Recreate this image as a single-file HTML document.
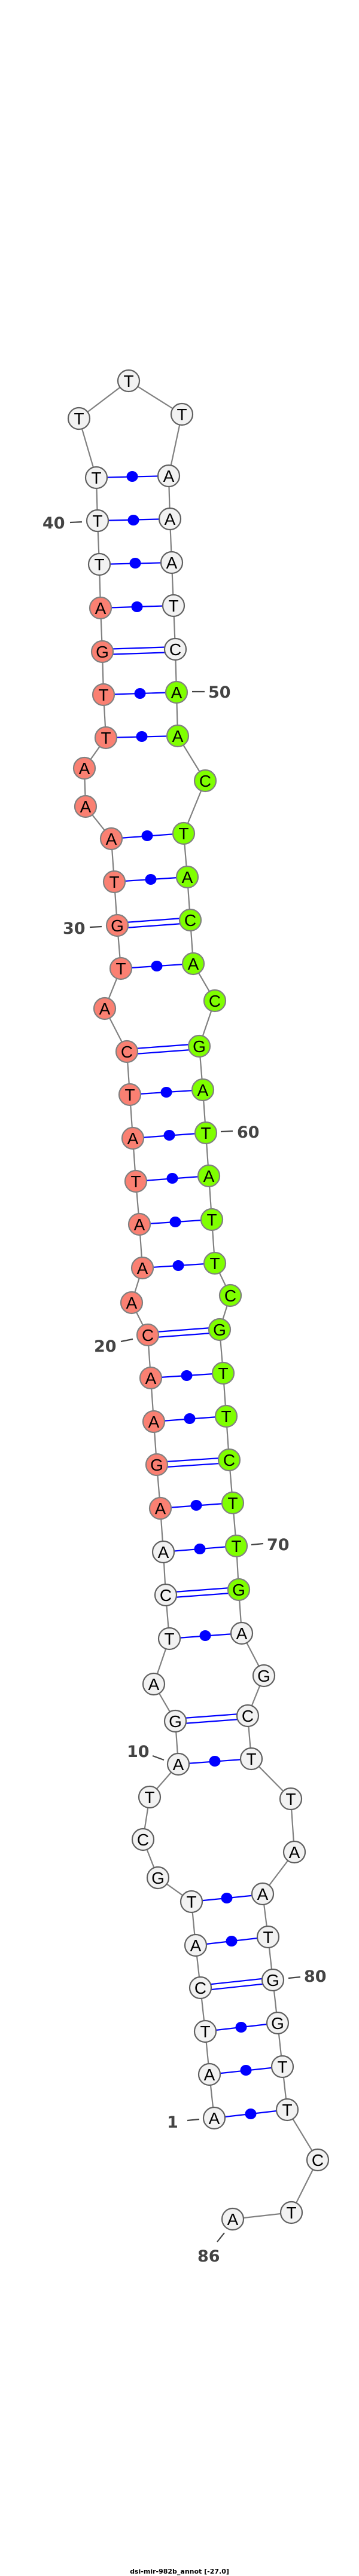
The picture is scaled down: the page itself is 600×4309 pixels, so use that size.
<!DOCTYPE html>
<html><head><meta charset="utf-8"><style>
html,body{margin:0;padding:0;background:#fff;}
svg{display:block;}
.n text{font-family:"Liberation Sans",sans-serif;font-size:28px;text-anchor:middle;fill:#000;stroke:none;}
.lb{font-family:"DejaVu Sans","Liberation Sans",sans-serif;font-weight:bold;font-size:27px;fill:#444;}
</style></head><body>
<svg width="600" height="4309" viewBox="0 0 600 4309" xmlns="http://www.w3.org/2000/svg">
<polyline fill="none" stroke="#808080" stroke-width="2.2" points="358,3543 350,3470 343,3398 335,3325 327,3254 320,3181 264,3141 239,3077 250,3006 298,2951 293,2879 257,2817 283,2741 277,2668 273,2596 268,2523 262,2450 257,2378 252,2305 247,2233 220,2179 238,2121 233,2048 227,1976 222,1904 217,1831 212,1759 175,1687 202,1620 196,1548 191,1475 186,1403 143,1349 141,1285 177,1234 173,1162 171,1090 168,1017 166,944 163,871 161,799 132,700 215,637 304,693 282,796 284,868 287,941 290,1013 293,1086 295,1158 297,1231 343,1306 307,1394 313,1467 318,1539 323,1612 359,1674 333,1750 339,1823 344,1895 349,1967 354,2040 359,2113 385,2167 367,2224 373,2297 378,2369 383,2442 389,2514 395,2586 399,2659 404,2732 441,2803 414,2870 420,2942 486,3009 492,3098 439,3168 448,3240 456,3312 464,3384 472,3457 480,3529 531,3613 487,3701 389,3712"/>
<g stroke="#0000ff" stroke-width="2.2">
<line x1="358" y1="3543" x2="480" y2="3529"/>
<line x1="350" y1="3470" x2="472" y2="3457"/>
<line x1="343" y1="3398" x2="464" y2="3384"/>
<line x1="335" y1="3321" x2="456" y2="3308"/><line x1="335" y1="3330" x2="456" y2="3317"/>
<line x1="327" y1="3254" x2="448" y2="3240"/>
<line x1="320" y1="3181" x2="439" y2="3169"/>
<line x1="298" y1="2951" x2="420" y2="2942"/>
<line x1="293" y1="2875" x2="414" y2="2866"/><line x1="293" y1="2884" x2="414" y2="2875"/>
<line x1="283" y1="2741" x2="404" y2="2732"/>
<line x1="277" y1="2664" x2="399" y2="2655"/><line x1="277" y1="2673" x2="399" y2="2664"/>
<line x1="273" y1="2596" x2="395" y2="2586"/>
<line x1="268" y1="2523" x2="389" y2="2514"/>
<line x1="262" y1="2446" x2="383" y2="2438"/><line x1="262" y1="2455" x2="383" y2="2447"/>
<line x1="257" y1="2378" x2="378" y2="2369"/>
<line x1="252" y1="2305" x2="373" y2="2297"/>
<line x1="247" y1="2229" x2="367" y2="2220"/><line x1="247" y1="2238" x2="367" y2="2229"/>
<line x1="238" y1="2121" x2="359" y2="2113"/>
<line x1="233" y1="2048" x2="354" y2="2040"/>
<line x1="227" y1="1976" x2="349" y2="1967"/>
<line x1="222" y1="1904" x2="344" y2="1895"/>
<line x1="217" y1="1831" x2="339" y2="1823"/>
<line x1="212" y1="1755" x2="333" y2="1746"/><line x1="212" y1="1764" x2="333" y2="1755"/>
<line x1="202" y1="1620" x2="323" y2="1612"/>
<line x1="196" y1="1544" x2="318" y2="1535"/><line x1="196" y1="1553" x2="318" y2="1544"/>
<line x1="191" y1="1475" x2="313" y2="1467"/>
<line x1="186" y1="1403" x2="307" y2="1394"/>
<line x1="177" y1="1234" x2="297" y2="1231"/>
<line x1="173" y1="1162" x2="295" y2="1158"/>
<line x1="171" y1="1086" x2="293" y2="1082"/><line x1="171" y1="1095" x2="293" y2="1091"/>
<line x1="168" y1="1017" x2="290" y2="1013"/>
<line x1="166" y1="944" x2="287" y2="941"/>
<line x1="163" y1="871" x2="284" y2="868"/>
<line x1="161" y1="799" x2="282" y2="796"/>
</g>
<g fill="#0000ff">
<ellipse cx="419" cy="3536" rx="9.5" ry="9"/>
<ellipse cx="411" cy="3463" rx="9.5" ry="9"/>
<ellipse cx="403" cy="3391" rx="9.5" ry="9"/>
<ellipse cx="387" cy="3247" rx="9.5" ry="9"/>
<ellipse cx="379" cy="3175" rx="9.5" ry="9"/>
<ellipse cx="359" cy="2946" rx="9.5" ry="9"/>
<ellipse cx="343" cy="2736" rx="9.5" ry="9"/>
<ellipse cx="334" cy="2591" rx="9.5" ry="9"/>
<ellipse cx="328" cy="2518" rx="9.5" ry="9"/>
<ellipse cx="317" cy="2373" rx="9.5" ry="9"/>
<ellipse cx="312" cy="2301" rx="9.5" ry="9"/>
<ellipse cx="298" cy="2117" rx="9.5" ry="9"/>
<ellipse cx="293" cy="2044" rx="9.5" ry="9"/>
<ellipse cx="288" cy="1971" rx="9.5" ry="9"/>
<ellipse cx="283" cy="1899" rx="9.5" ry="9"/>
<ellipse cx="278" cy="1827" rx="9.5" ry="9"/>
<ellipse cx="262" cy="1616" rx="9.5" ry="9"/>
<ellipse cx="252" cy="1471" rx="9.5" ry="9"/>
<ellipse cx="246" cy="1398" rx="9.5" ry="9"/>
<ellipse cx="237" cy="1232" rx="9.5" ry="9"/>
<ellipse cx="234" cy="1160" rx="9.5" ry="9"/>
<ellipse cx="229" cy="1015" rx="9.5" ry="9"/>
<ellipse cx="226" cy="942" rx="9.5" ry="9"/>
<ellipse cx="223" cy="870" rx="9.5" ry="9"/>
<ellipse cx="221" cy="797" rx="9.5" ry="9"/>
</g>
<g stroke="#444" stroke-width="2.2">
<line x1="117" y1="874" x2="137" y2="873"/>
<line x1="321" y1="1157" x2="342" y2="1157"/>
<line x1="150" y1="1551" x2="170" y2="1550"/>
<line x1="369" y1="1893" x2="389" y2="1892"/>
<line x1="202" y1="2244" x2="222" y2="2240"/>
<line x1="420" y1="2584" x2="440" y2="2582"/>
<line x1="255" y1="2937" x2="274" y2="2944"/>
<line x1="482" y1="3309" x2="502" y2="3307"/>
<line x1="313" y1="3547" x2="333" y2="3545"/>
<line x1="375" y1="3735" x2="363" y2="3750"/>
</g>
<g class="lb">
<text x="71" y="884">40</text>
<text x="348" y="1167">50</text>
<text x="105" y="1562">30</text>
<text x="396" y="1903">60</text>
<text x="157" y="2261">20</text>
<text x="446" y="2593">70</text>
<text x="212" y="2939">10</text>
<text x="508" y="3315">80</text>
<text x="279" y="3559">1</text>
<text x="330" y="3783">86</text>
</g>
<g class="n" stroke-width="2.2">
<g stroke="#606060" fill="#f2f2f2">
<circle cx="358" cy="3543" r="18"/><circle cx="350" cy="3470" r="18"/><circle cx="343" cy="3398" r="18"/><circle cx="335" cy="3325" r="18"/><circle cx="327" cy="3254" r="18"/><circle cx="320" cy="3181" r="18"/><circle cx="264" cy="3141" r="18"/><circle cx="239" cy="3077" r="18"/><circle cx="250" cy="3006" r="18"/><circle cx="298" cy="2951" r="18"/><circle cx="293" cy="2879" r="18"/><circle cx="257" cy="2817" r="18"/><circle cx="283" cy="2741" r="18"/><circle cx="277" cy="2668" r="18"/><circle cx="273" cy="2596" r="18"/>
<circle cx="166" cy="944" r="18"/><circle cx="163" cy="871" r="18"/><circle cx="161" cy="799" r="18"/><circle cx="132" cy="700" r="18"/><circle cx="215" cy="637" r="18"/><circle cx="304" cy="693" r="18"/><circle cx="282" cy="796" r="18"/><circle cx="284" cy="868" r="18"/><circle cx="287" cy="941" r="18"/><circle cx="290" cy="1013" r="18"/><circle cx="293" cy="1086" r="18"/>
<circle cx="404" cy="2732" r="18"/><circle cx="441" cy="2803" r="18"/><circle cx="414" cy="2870" r="18"/><circle cx="420" cy="2942" r="18"/><circle cx="486" cy="3009" r="18"/><circle cx="492" cy="3098" r="18"/><circle cx="439" cy="3168" r="18"/><circle cx="448" cy="3240" r="18"/><circle cx="456" cy="3312" r="18"/><circle cx="464" cy="3384" r="18"/><circle cx="472" cy="3457" r="18"/><circle cx="480" cy="3529" r="18"/><circle cx="531" cy="3613" r="18"/><circle cx="487" cy="3701" r="18"/><circle cx="389" cy="3712" r="18"/>
</g>
<g stroke="#808080" fill="#fa8072">
<circle cx="268" cy="2523" r="18"/><circle cx="262" cy="2450" r="18"/><circle cx="257" cy="2378" r="18"/><circle cx="252" cy="2305" r="18"/><circle cx="247" cy="2233" r="18"/><circle cx="220" cy="2179" r="18"/><circle cx="238" cy="2121" r="18"/><circle cx="233" cy="2048" r="18"/><circle cx="227" cy="1976" r="18"/><circle cx="222" cy="1904" r="18"/><circle cx="217" cy="1831" r="18"/><circle cx="212" cy="1759" r="18"/><circle cx="175" cy="1687" r="18"/><circle cx="202" cy="1620" r="18"/><circle cx="196" cy="1548" r="18"/><circle cx="191" cy="1475" r="18"/><circle cx="186" cy="1403" r="18"/><circle cx="143" cy="1349" r="18"/><circle cx="141" cy="1285" r="18"/><circle cx="177" cy="1234" r="18"/><circle cx="173" cy="1162" r="18"/><circle cx="171" cy="1090" r="18"/><circle cx="168" cy="1017" r="18"/>
</g>
<g stroke="#808080" fill="#7fff00">
<circle cx="295" cy="1158" r="18"/><circle cx="297" cy="1231" r="18"/><circle cx="343" cy="1306" r="18"/><circle cx="307" cy="1394" r="18"/><circle cx="313" cy="1467" r="18"/><circle cx="318" cy="1539" r="18"/><circle cx="323" cy="1612" r="18"/><circle cx="359" cy="1674" r="18"/><circle cx="333" cy="1750" r="18"/><circle cx="339" cy="1823" r="18"/><circle cx="344" cy="1895" r="18"/><circle cx="349" cy="1967" r="18"/><circle cx="354" cy="2040" r="18"/><circle cx="359" cy="2113" r="18"/><circle cx="385" cy="2167" r="18"/><circle cx="367" cy="2224" r="18"/><circle cx="373" cy="2297" r="18"/><circle cx="378" cy="2369" r="18"/><circle cx="383" cy="2442" r="18"/><circle cx="389" cy="2514" r="18"/><circle cx="395" cy="2586" r="18"/><circle cx="399" cy="2659" r="18"/>
</g>
<g>
<text x="358" y="3553">A</text><text x="350" y="3480">A</text><text x="343" y="3408">T</text><text x="335" y="3335">C</text><text x="327" y="3264">A</text><text x="320" y="3191">T</text><text x="264" y="3151">G</text><text x="239" y="3087">C</text><text x="250" y="3016">T</text><text x="298" y="2961">A</text>
<text x="293" y="2889">G</text><text x="257" y="2827">A</text><text x="283" y="2751">T</text><text x="277" y="2678">C</text><text x="273" y="2606">A</text><text x="268" y="2533">A</text><text x="262" y="2460">G</text><text x="257" y="2388">A</text><text x="252" y="2315">A</text><text x="247" y="2243">C</text>
<text x="220" y="2189">A</text><text x="238" y="2131">A</text><text x="233" y="2058">A</text><text x="227" y="1986">T</text><text x="222" y="1914">A</text><text x="217" y="1841">T</text><text x="212" y="1769">C</text><text x="175" y="1697">A</text><text x="202" y="1630">T</text><text x="196" y="1558">G</text>
<text x="191" y="1485">T</text><text x="186" y="1413">A</text><text x="143" y="1359">A</text><text x="141" y="1295">A</text><text x="177" y="1244">T</text><text x="173" y="1172">T</text><text x="171" y="1100">G</text><text x="168" y="1027">A</text><text x="166" y="954">T</text><text x="163" y="881">T</text>
<text x="161" y="809">T</text><text x="132" y="710">T</text><text x="215" y="647">T</text><text x="304" y="703">T</text><text x="282" y="806">A</text><text x="284" y="878">A</text><text x="287" y="951">A</text><text x="290" y="1023">T</text><text x="293" y="1096">C</text><text x="295" y="1168">A</text>
<text x="297" y="1241">A</text><text x="343" y="1316">C</text><text x="307" y="1404">T</text><text x="313" y="1477">A</text><text x="318" y="1549">C</text><text x="323" y="1622">A</text><text x="359" y="1684">C</text><text x="333" y="1760">G</text><text x="339" y="1833">A</text><text x="344" y="1905">T</text>
<text x="349" y="1977">A</text><text x="354" y="2050">T</text><text x="359" y="2123">T</text><text x="385" y="2177">C</text><text x="367" y="2234">G</text><text x="373" y="2307">T</text><text x="378" y="2379">T</text><text x="383" y="2452">C</text><text x="389" y="2524">T</text><text x="395" y="2596">T</text>
<text x="399" y="2669">G</text><text x="404" y="2742">A</text><text x="441" y="2813">G</text><text x="414" y="2880">C</text><text x="420" y="2952">T</text><text x="486" y="3019">T</text><text x="492" y="3108">A</text><text x="439" y="3178">A</text><text x="448" y="3250">T</text><text x="456" y="3322">G</text>
<text x="464" y="3394">G</text><text x="472" y="3467">T</text><text x="480" y="3539">T</text><text x="531" y="3623">C</text><text x="487" y="3711">T</text><text x="389" y="3722">A</text>
</g>
</g>
<text x="300" y="4305" text-anchor="middle" style="font-family:'DejaVu Sans','Liberation Sans',sans-serif;font-weight:bold;font-size:11px;fill:#000;">dsi-mir-982b_annot [-27.0]</text>
</svg>
</body></html>
